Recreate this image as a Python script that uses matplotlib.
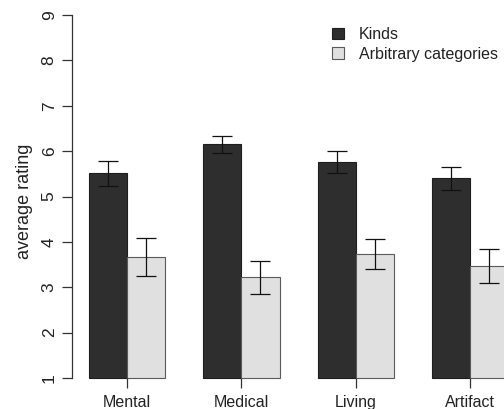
import matplotlib
matplotlib.use("Agg")
import matplotlib.pyplot as plt
from matplotlib.patches import Patch
import numpy as np

plt.rcParams['font.family'] = ['Liberation Sans', 'DejaVu Sans']

categories = ["Mental", "Medical", "Living", "Artifact"]
kinds = [5.51, 6.15, 5.76, 5.40]
kinds_err = [0.27, 0.19, 0.24, 0.25]
arbitrary = [3.67, 3.22, 3.73, 3.47]
arbitrary_err = [0.42, 0.36, 0.33, 0.37]
series_labels = ["Kinds", "Arbitrary categories"]
yticks = [1, 2, 3, 4, 5, 6, 7, 8, 9]

W, H = 504, 409
fig = plt.figure(figsize=(W / 100, H / 100), dpi=100)
# axes in pixel coords: x 72..504, y 15..378 (from top)
ax = fig.add_axes([72 / W, (H - 378) / H, (504 - 72) / W, (378 - 15) / H])

unit = 38.1
x0 = (72 - 89) / unit
x1 = (504 - 89) / unit
ax.set_xlim(x0, x1)
ax.set_ylim(1, 9)

dark = "#2e2e2e"
light = "#e0e0e0"
n = len(categories)
centers = np.arange(n) * 3 + 1.0
bottom = 1
kv = np.array(kinds) - bottom
av = np.array(arbitrary) - bottom

ax.bar(centers - 0.5, kv, width=1.0, bottom=bottom, color=dark, edgecolor="#1e1e1e",
       linewidth=0.8, clip_on=False, label=series_labels[0])
ax.bar(centers + 0.5, av, width=1.0, bottom=bottom, color=light, edgecolor="#5a5a5a",
       linewidth=0.8, clip_on=False, label=series_labels[1])
ax.errorbar(centers - 0.5, kinds, yerr=kinds_err, fmt="none", ecolor="#111111",
            elinewidth=0.9, capsize=7, capthick=0.9, clip_on=False)
ax.errorbar(centers + 0.5, arbitrary, yerr=arbitrary_err, fmt="none", ecolor="#111111",
            elinewidth=0.9, capsize=7, capthick=0.9, clip_on=False)

for s in ["top", "right", "bottom"]:
    ax.spines[s].set_visible(False)
ax.spines["left"].set_color("#333333")
ax.spines["left"].set_linewidth(0.9)
ax.spines["left"].set_bounds(1, 9)

ax.set_yticks(yticks)
ax.set_yticklabels([str(v) for v in yticks])
ax.tick_params(axis="y", length=7, width=0.9, color="#333333", pad=4,
               labelsize=12.5, labelcolor="#222222", labelrotation=90)
for lab in ax.get_yticklabels():
    lab.set_va("center")

ax.set_xticks(centers)
ax.set_xticklabels(categories)
ax.tick_params(axis="x", length=7, width=0.9, color="#333333", pad=5.5,
               labelsize=11.5, labelcolor="#222222")

ax.set_ylabel("average rating", fontsize=13, color="#222222")
ax.yaxis.set_label_coords((33 - 72) / (504 - 72), (378 - 201.5) / (378 - 15))

handles = [Patch(facecolor=dark, edgecolor="#1e1e1e", linewidth=0.8),
           Patch(facecolor=light, edgecolor="#5a5a5a", linewidth=0.8)]
fig.legend(handles, series_labels, loc="upper left",
           bbox_to_anchor=(332 / W, 1 - 27 / H), bbox_transform=fig.transFigure,
           frameon=False, fontsize=11.5, handlelength=0.75, handleheight=0.75,
           handletextpad=0.95, labelspacing=0.3, borderpad=0, borderaxespad=0,
           labelcolor="#222222")

fig.savefig("out.png", dpi=100)
